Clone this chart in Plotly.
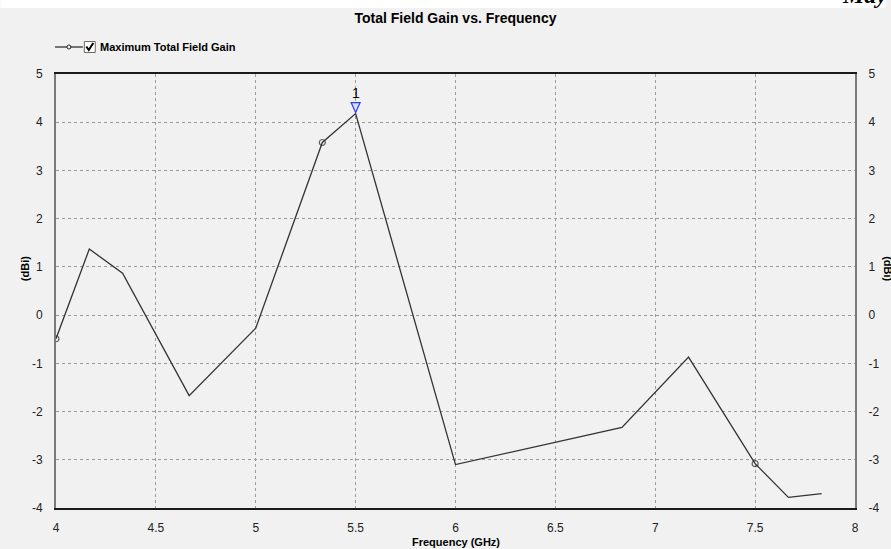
import plotly.graph_objects as go

# Maximum total field gain sweep
freq_ghz = [4.0, 4.1667, 4.3333, 4.6667, 5.0, 5.3333, 5.5, 6.0, 6.8333, 7.1667, 7.5, 7.6667, 7.8333]
gain_dbi = [-0.49, 1.37, 0.87, -1.67, -0.27, 3.58, 4.18, -3.10, -2.33, -0.87, -3.08, -3.78, -3.70]
symbol_idx = [0, 5, 10]          # samples drawn with a circle symbol
peak_marker_freq = 5.5           # marker "1"
x_ticks = [4, 4.5, 5, 5.5, 6, 6.5, 7, 7.5, 8]
y_ticks = [-4, -3, -2, -1, 0, 1, 2, 3, 4, 5]

W, H = 891, 549
L, R, T, B = 56, 860, 74, 508   # plot area in pixels


def px(x):
    return (x - L) / (R - L)


def py(y):
    return (B - y) / (B - T)


BG = "#f1f1f1"
FONT = "Liberation Sans Narrow, Liberation Sans, Arial, sans-serif"
BOLD = "Liberation Sans, Arial, sans-serif"

sizes = [6 if i in symbol_idx else 0 for i in range(len(freq_ghz))]

fig = go.Figure()
fig.add_trace(go.Scatter(
    x=freq_ghz, y=gain_dbi, mode="lines+markers",
    line=dict(color="#333333", width=1.3),
    marker=dict(symbol="circle-open", size=sizes, color="#222", line=dict(width=1.2)),
    showlegend=False, hoverinfo="skip",
))
# mirror trace for the right-hand axis
fig.add_trace(go.Scatter(x=[freq_ghz[0]], y=[gain_dbi[0]], yaxis="y2", mode="markers",
                         marker=dict(size=0, opacity=0), showlegend=False, hoverinfo="skip"))

peak_gain = gain_dbi[freq_ghz.index(peak_marker_freq)]

shapes = [
    # white band above the chart window
    dict(type="rect", xref="paper", yref="paper", x0=px(0), x1=px(W), y0=py(8), y1=py(-5),
         fillcolor="white", line=dict(width=0), layer="below"),
    # peak marker triangle
    dict(type="path", xref="x", yref="y", xsizemode="pixel", ysizemode="pixel",
         xanchor=peak_marker_freq, yanchor=peak_gain,
         path="M -4.5 11 L 4.5 11 L 0 1 Z",
         fillcolor="#d8deff", line=dict(color="#2a3cff", width=1.2)),
    # legend: line sample
    dict(type="line", xref="paper", yref="paper", x0=px(55), x1=px(83), y0=py(47), y1=py(47),
         line=dict(color="#222", width=1.2)),
    dict(type="circle", xref="paper", yref="paper", x0=px(67), x1=px(71), y0=py(49), y1=py(45),
         fillcolor=BG, line=dict(color="#222", width=1)),
    # legend: checkbox
    dict(type="rect", xref="paper", yref="paper", x0=px(84.5), x1=px(95.5), y0=py(52.5), y1=py(41.5),
         fillcolor="white", line=dict(color="#6f6a5a", width=1)),
    dict(type="path", xref="paper", yref="paper",
         path=f"M {px(86.5)} {py(46.5)} L {px(89)} {py(50)} L {px(93.5)} {py(43)}",
         line=dict(color="black", width=2)),
]

annotations = [
    dict(text="<b>Maximum Total Field Gain</b>", xref="paper", yref="paper", x=px(98), y=py(47),
         xanchor="left", yanchor="middle", showarrow=False, font=dict(family=BOLD, size=11, color="black")),
    dict(text="1", xref="x", yref="y", x=peak_marker_freq, y=peak_gain, yshift=21,
         xanchor="center", yanchor="middle", showarrow=False, font=dict(family=BOLD, size=14, color="black")),
    dict(text="<b>(dBi)</b>", xref="paper", yref="paper", x=px(25), y=py(269), textangle=-90,
         xanchor="center", yanchor="middle", showarrow=False, font=dict(family=BOLD, size=11, color="black")),
    dict(text="<b>(dBi)</b>", xref="paper", yref="paper", x=px(893), y=py(269), textangle=90,
         xanchor="center", yanchor="middle", showarrow=False, font=dict(family=BOLD, size=11, color="black")),
    dict(text="<b>Frequency (GHz)</b>", xref="paper", yref="paper", x=0.5, y=py(542),
         xanchor="center", yanchor="middle", showarrow=False, font=dict(family=BOLD, size=11, color="black")),
    dict(text="<b><i>May</i></b>", xref="paper", yref="paper", x=px(894), y=py(10),
         xanchor="right", yanchor="bottom", showarrow=False,
         font=dict(family="Liberation Serif, DejaVu Serif, serif", size=24, color="black")),
]

grid = dict(showgrid=True, gridcolor="#9a9a9a", griddash="3px,3px", gridwidth=1)

fig.update_layout(
    width=W, height=H,
    margin=dict(l=L, r=W - R, t=T, b=H - B),
    paper_bgcolor=BG, plot_bgcolor=BG,
    title=dict(text="<b>Total Field Gain vs. Frequency</b>", x=0.5, xref="paper",
               y=1 - 18 / H, yref="container", xanchor="center", yanchor="middle",
               font=dict(family=BOLD, size=14, color="black")),
    xaxis=dict(range=[4, 8], tickvals=x_ticks, ticktext=[f"{v:g}" for v in x_ticks],
               showline=True, linecolor="#1a1a1a", linewidth=2, mirror=True,
               ticks="", ticklabelstandoff=8, zeroline=False,
               tickfont=dict(family=FONT, size=12, color="#222"), **grid),
    yaxis=dict(range=[-4, 5], tickvals=y_ticks, ticktext=[f"{v:g}" for v in y_ticks],
               showline=True, linecolor="#7a7a7a", linewidth=2,
               ticks="", ticklabelstandoff=9, zeroline=False,
               tickfont=dict(family=FONT, size=12, color="#222"), **grid),
    yaxis2=dict(range=[-4, 5], tickvals=y_ticks, ticktext=[f"{v:g}" for v in y_ticks],
                overlaying="y", side="right", showgrid=False, zeroline=False,
                showline=True, linecolor="#7a7a7a", linewidth=2,
                ticks="", ticklabelstandoff=9,
                tickfont=dict(family=FONT, size=12, color="#222")),
    shapes=shapes, annotations=annotations,
)

fig.write_html("out.html")
